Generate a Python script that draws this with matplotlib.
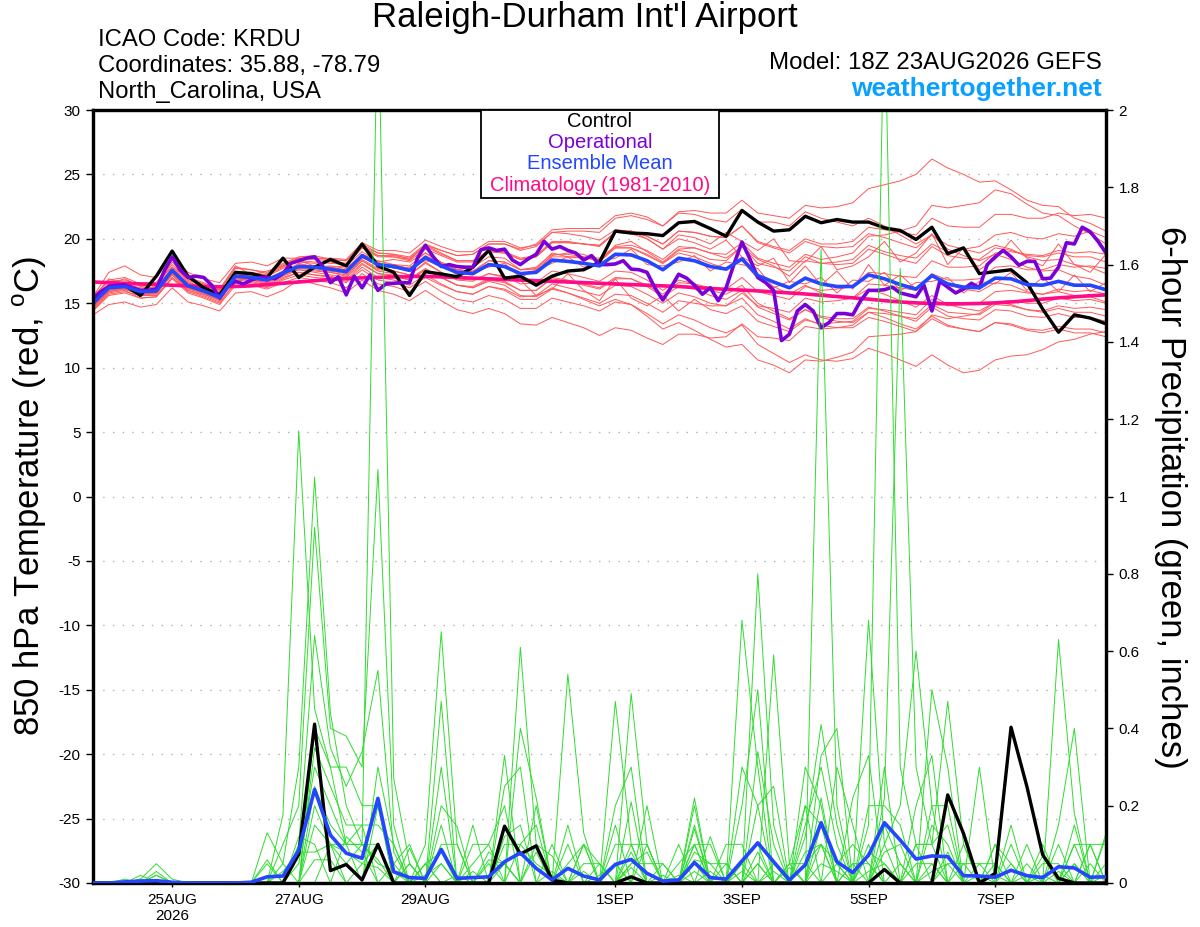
import numpy as np
import matplotlib
matplotlib.use("Agg")
import matplotlib.pyplot as plt
from matplotlib.patches import Rectangle

plt.rcParams['font.family'] = ['Liberation Sans', 'DejaVu Sans']
plt.rcParams['mathtext.fontset'] = 'custom'
plt.rcParams['mathtext.rm'] = 'Liberation Sans'

# ---------------- data ----------------
hours6 = np.arange(0, 385, 6)      # forecast hours from 18Z 23AUG2026
hours3 = np.arange(0, 385, 3)      # operational run is 3-hourly

tick_hours = [30, 78, 126, 198, 246, 294, 342]
tick_labels = ["25AUG\n2026", "27AUG", "29AUG", "1SEP", "3SEP", "5SEP", "7SEP"]

control_t = [15.0, 16.3, 16.4, 15.6, 17.1, 19.05, 17.1, 16.2, 15.65, 17.4, 17.3, 17.0, 18.5,
             17.0, 17.8, 18.4, 17.9, 19.6, 17.9, 17.4, 15.6, 17.45, 17.27, 17.06, 17.8, 19.1,
             16.95, 17.1, 16.4, 17.1, 17.5, 17.6, 18.2, 20.6, 20.45, 20.4, 20.25, 21.25, 21.35,
             20.8, 20.2, 22.2, 21.3, 20.6, 20.7, 21.75, 21.25, 21.5, 21.3, 21.3, 20.85, 20.65,
             19.95, 20.9, 18.85, 19.3, 17.3, 17.45, 17.6, 16.6, 14.55, 12.75, 14.1, 13.85, 13.4]

ens_mean_t = [15.0, 16.2, 16.3, 15.9, 15.95, 17.55, 16.35, 15.95, 15.45, 17.1, 17.0, 16.8, 17.35,
              17.85, 17.8, 17.65, 17.45, 18.7, 18.0, 17.85, 17.55, 18.55, 17.9, 17.4, 17.3, 18.0,
              17.85, 17.3, 17.4, 18.35, 18.25, 18.1, 17.9, 18.8, 18.75, 18.3, 17.6, 18.5, 18.3,
              17.85, 17.65, 18.45, 17.15, 16.65, 16.2, 16.95, 16.5, 16.3, 16.3, 17.2, 16.9, 16.45,
              16.1, 17.15, 16.5, 16.25, 16.2, 16.95, 16.9, 16.45, 16.4, 16.7, 16.4, 16.4, 16.05]

climo_t = [16.65, 16.6, 16.55, 16.5, 16.45, 16.4, 16.35, 16.3, 16.28, 16.3, 16.35, 16.45, 16.55,
           16.65, 16.75, 16.85, 16.92, 16.97, 17.0, 17.05, 17.08, 17.08, 17.05, 17.0, 16.95, 16.9,
           16.85, 16.8, 16.75, 16.7, 16.65, 16.6, 16.55, 16.5, 16.45, 16.4, 16.35, 16.3, 16.22,
           16.15, 16.08, 16.02, 15.96, 15.88, 15.8, 15.72, 15.62, 15.52, 15.42, 15.32, 15.2, 15.1,
           15.03, 14.98, 14.96, 14.96, 14.98, 15.03, 15.1, 15.2, 15.32, 15.42, 15.5, 15.58, 15.65]

oper_t = [15.4, 15.9, 16.3, 16.4, 16.4, 16.2, 16.0, 16.0, 16.1, 17.5, 18.6, 17.6, 17.0, 17.1, 17.0,
          16.4, 15.4, 16.3, 16.7, 16.5, 16.8, 17.0, 17.0, 16.9, 17.3, 18.1, 18.3, 18.5, 18.6, 17.9,
          16.6, 17.05, 15.65, 17.1, 16.2, 17.2, 16.0, 16.5, 16.55, 16.6, 16.6, 18.5, 19.5, 18.6,
          17.85, 18.0, 17.85, 17.8, 17.8, 19.15, 19.3, 19.1, 19.2, 18.35, 18.0, 18.45, 18.8, 19.8,
          19.2, 19.4, 19.1, 18.9, 18.35, 18.7, 18.0, 18.0, 18.05, 18.3, 17.65, 17.6, 17.4, 16.2,
          15.25, 16.2, 17.25, 16.95, 16.4, 15.7, 16.2, 15.2, 16.2, 18.05, 19.75, 18.45, 17.0, 16.6,
          16.0, 12.1, 12.6, 14.4, 14.9, 14.4, 13.1, 13.5, 14.2, 14.2, 14.1, 15.2, 16.0, 16.0, 16.05,
          16.25, 15.8, 15.65, 15.5, 16.4, 14.4, 16.7, 16.25, 15.8, 16.1, 16.55, 16.2, 18.0, 18.6,
          19.1, 18.6, 17.95, 18.25, 18.25, 16.9, 16.95, 17.8, 19.7, 19.6, 20.9, 20.55, 19.8, 18.9]

red_m01 = [15.5, 17.4, 17.9, 17.2, 17.0, 18.6, 17.4, 16.9, 16.6, 18.1, 18.2, 17.9, 18.5,
           18.5, 18.5, 18.4, 18.3, 19.4, 18.9, 18.8, 18.6, 19.6, 19.1, 18.7, 18.8, 19.6,
           19.6, 19.1, 19.4, 20.5, 20.6, 20.6, 20.5, 21.6, 21.8, 21.5, 21.0, 22.1, 22.2,
           22.0, 22.0, 23.0, 22.0, 21.8, 21.6, 22.6, 22.4, 22.5, 22.8, 23.9, 24.2, 24.5,
           25.0, 26.2, 25.5, 25.0, 24.4, 24.5, 23.8, 23.0, 22.6, 22.5, 21.6, 21.2, 20.6]
red_m02 = [14.4, 15.6, 15.8, 15.4, 15.5, 16.9, 15.8, 15.4, 14.9, 16.4, 16.4, 16.1, 16.6,
           17.0, 16.8, 16.6, 16.2, 17.3, 16.5, 16.3, 15.9, 16.7, 15.9, 15.3, 15.1, 15.6,
           15.3, 14.6, 14.6, 15.4, 15.1, 14.8, 14.4, 15.1, 14.9, 14.2, 13.4, 14.1, 13.7,
           13.1, 12.7, 13.3, 11.8, 11.1, 10.4, 11.0, 10.6, 10.5, 10.7, 11.5, 11.1, 10.6,
           10.1, 11.0, 10.2, 9.6, 9.8, 10.6, 10.9, 11.0, 11.4, 12.0, 12.2, 12.6, 12.8]
red_m03 = [15.5, 16.8, 17.0, 16.5, 16.6, 18.4, 17.0, 16.6, 16.0, 17.8, 17.6, 17.4, 18.1,
           18.6, 18.7, 18.4, 18.3, 19.6, 18.9, 18.8, 18.4, 19.5, 18.9, 18.3, 18.3, 19.1,
           19.0, 18.5, 18.7, 19.8, 19.8, 19.6, 19.4, 20.5, 20.4, 20.0, 19.2, 20.3, 20.1,
           19.6, 20.5, 19.8, 19.1, 20.0, 18.3, 18.2, 19.4, 17.6, 17.9, 18.6, 19.8, 18.2,
           18.9, 20.4, 18.0, 19.3, 17.6, 18.4, 19.9, 18.5, 17.9, 19.6, 18.0, 17.4, 18.8]
red_m04 = [14.6, 15.8, 16.0, 15.4, 15.5, 17.0, 15.9, 15.5, 15.0, 16.6, 16.5, 16.2, 16.8,
           17.2, 17.0, 16.9, 16.6, 17.6, 16.8, 16.6, 16.2, 17.0, 16.4, 15.9, 15.7, 16.3,
           16.1, 15.5, 15.6, 16.5, 16.2, 15.9, 15.6, 16.4, 16.3, 15.7, 15.0, 15.8, 15.5,
           15.0, 14.8, 15.4, 14.1, 13.6, 13.0, 13.8, 13.3, 13.1, 13.1, 13.9, 13.6, 13.2,
           12.8, 13.8, 13.2, 13.0, 12.8, 13.5, 13.4, 13.0, 12.9, 13.2, 13.0, 13.0, 12.7]
red_m05 = [15.2, 16.5, 16.9, 16.3, 16.4, 18.0, 16.9, 16.5, 15.9, 17.3, 17.2, 17.1, 17.7,
           18.3, 17.9, 17.8, 17.9, 19.0, 18.2, 18.4, 18.2, 18.9, 18.1, 17.6, 17.8, 18.6,
           18.5, 17.6, 17.6, 18.7, 18.9, 18.8, 18.2, 19.5, 19.8, 19.0, 18.2, 19.2, 19.3,
           18.9, 18.5, 19.4, 18.4, 17.9, 17.1, 18.3, 18.1, 18.2, 18.4, 19.5, 19.0, 18.7,
           18.5, 19.6, 19.0, 19.2, 19.4, 20.3, 20.5, 20.1, 20.0, 20.4, 20.2, 20.6, 20.1]
red_m06 = [14.8, 15.9, 16.1, 15.6, 15.8, 17.2, 16.0, 15.7, 15.2, 16.9, 16.8, 16.5, 17.1,
           17.6, 17.5, 17.4, 17.1, 18.3, 17.6, 17.5, 17.2, 18.2, 17.4, 16.9, 16.8, 17.3,
           17.0, 16.8, 15.6, 16.1, 17.3, 16.0, 15.2, 16.9, 15.4, 14.8, 15.6, 14.4, 15.3,
           14.5, 14.2, 14.8, 13.6, 13.2, 12.8, 13.7, 13.4, 13.5, 13.6, 14.6, 14.5, 14.3,
           14.1, 15.3, 14.8, 14.9, 15.0, 15.9, 16.0, 15.8, 15.7, 16.1, 15.9, 16.0, 15.7]
red_m07 = [15.4, 16.9, 16.5, 16.6, 16.6, 17.8, 17.0, 16.3, 16.1, 17.9, 17.2, 17.5, 17.9,
           18.2, 18.1, 18.2, 18.0, 19.3, 18.7, 18.7, 18.5, 19.5, 19.1, 18.7, 18.8, 19.6,
           19.6, 19.2, 19.6, 20.7, 20.8, 20.8, 20.8, 21.8, 22.0, 21.7, 21.0, 22.0, 21.9,
           21.5, 21.3, 22.3, 21.3, 21.3, 21.0, 22.1, 21.6, 21.3, 21.0, 21.6, 21.0, 20.3,
           19.6, 20.3, 19.2, 18.7, 18.3, 18.8, 18.4, 17.8, 17.5, 17.6, 17.1, 16.9, 16.4]
red_m08 = [15.0, 16.0, 16.2, 16.0, 16.1, 17.3, 16.6, 16.2, 15.6, 17.0, 16.9, 16.9, 17.2,
           17.8, 17.9, 17.5, 17.6, 18.5, 18.2, 17.7, 17.8, 18.3, 18.1, 17.2, 17.5, 17.8,
           18.1, 17.0, 17.6, 18.1, 18.6, 17.8, 18.2, 18.5, 19.2, 18.0, 17.9, 18.2, 18.7,
           17.5, 18.2, 18.0, 17.7, 16.2, 16.7, 16.5, 17.0, 15.8, 16.8, 16.7, 17.4, 16.0,
           16.6, 16.7, 17.0, 15.8, 16.7, 16.5, 17.4, 16.0, 17.0, 15.9, 17.2, 15.9, 16.6]
red_m09 = [14.7, 16.0, 16.1, 15.7, 15.7, 17.3, 16.2, 15.7, 15.3, 16.8, 16.7, 16.4, 17.0,
           17.4, 17.2, 17.0, 16.7, 17.8, 17.0, 16.8, 16.4, 17.2, 16.5, 15.9, 15.7, 16.3,
           16.0, 15.3, 15.3, 16.1, 15.8, 15.4, 15.0, 15.7, 15.6, 15.0, 14.3, 15.2, 15.0,
           14.8, 14.8, 15.8, 14.8, 14.6, 14.3, 15.4, 15.1, 15.2, 15.4, 16.5, 16.4, 16.2,
           16.0, 17.3, 16.8, 16.8, 16.9, 17.8, 17.9, 17.6, 17.6, 18.0, 17.8, 17.9, 17.7]
red_m10 = [15.3, 16.4, 16.6, 16.0, 16.2, 17.8, 16.8, 16.3, 15.8, 17.4, 17.3, 17.1, 17.8,
           18.3, 18.2, 18.1, 18.0, 19.3, 18.6, 18.6, 18.3, 19.2, 18.7, 18.2, 18.2, 19.0,
           18.9, 18.4, 18.6, 19.7, 19.7, 19.6, 19.5, 20.5, 20.6, 20.2, 19.6, 20.6, 20.5,
           20.2, 20.1, 21.0, 19.8, 19.4, 19.1, 20.0, 19.6, 19.6, 19.8, 20.9, 20.7, 20.5,
           20.3, 21.6, 21.0, 20.9, 20.9, 21.9, 21.9, 21.6, 21.6, 22.0, 21.8, 21.9, 21.6]
red_m11 = [14.5, 15.7, 15.9, 15.6, 15.6, 17.0, 16.0, 15.6, 15.1, 16.6, 16.6, 16.3, 16.9,
           17.4, 17.2, 17.1, 16.8, 18.0, 17.3, 17.1, 16.8, 17.6, 17.0, 16.4, 16.3, 16.9,
           16.7, 16.0, 16.0, 17.0, 16.8, 16.5, 16.2, 17.0, 16.9, 16.3, 15.5, 16.3, 16.1,
           15.6, 15.3, 16.0, 14.7, 14.2, 13.7, 14.5, 14.0, 13.8, 13.8, 14.7, 14.4, 14.0,
           13.6, 14.7, 14.0, 13.8, 13.7, 14.5, 14.4, 14.0, 13.9, 14.2, 13.9, 13.9, 13.6]
red_m12 = [14.9, 16.1, 16.2, 15.8, 15.8, 17.4, 16.3, 15.8, 15.4, 17.0, 16.9, 16.7, 17.3,
           17.7, 17.6, 17.4, 17.2, 18.3, 17.5, 17.3, 16.9, 17.7, 17.0, 16.4, 16.2, 16.7,
           16.4, 15.6, 15.5, 16.2, 15.8, 15.3, 14.8, 15.3, 14.9, 14.0, 13.0, 13.5, 12.9,
           12.2, 11.6, 11.8, 10.6, 10.2, 9.6, 10.6, 10.5, 10.8, 11.2, 12.4, 12.5, 12.6,
           12.8, 14.1, 13.8, 14.0, 14.2, 15.1, 15.2, 15.0, 15.0, 15.4, 15.2, 15.3, 15.0]
red_m13 = [15.2, 16.4, 16.5, 16.2, 16.2, 17.6, 16.6, 16.2, 15.7, 17.4, 17.4, 17.2, 17.9,
           18.5, 18.5, 18.5, 18.4, 19.7, 19.1, 19.1, 18.9, 19.9, 19.4, 19.0, 19.0, 19.8,
           19.8, 19.3, 19.5, 20.5, 20.4, 20.2, 19.9, 20.7, 20.6, 20.0, 19.2, 20.0, 19.7,
           19.2, 19.9, 18.6, 17.9, 18.5, 16.6, 17.9, 16.4, 17.5, 16.1, 18.0, 16.4, 17.2,
           16.1, 17.2, 16.4, 16.1, 15.9, 16.6, 16.4, 15.9, 15.7, 15.9, 15.6, 15.5, 15.1]
red_m14 = [14.8, 16.1, 16.3, 15.8, 15.9, 17.4, 16.2, 15.9, 15.4, 17.0, 16.9, 16.6, 17.3,
           17.8, 17.7, 17.5, 17.3, 18.4, 17.7, 17.5, 17.2, 18.1, 17.4, 16.8, 16.7, 17.3,
           17.1, 16.5, 16.6, 17.5, 17.3, 17.0, 16.7, 17.5, 17.4, 16.8, 16.0, 16.8, 16.5,
           16.0, 15.7, 16.4, 15.0, 14.4, 13.8, 14.5, 13.9, 13.6, 13.5, 14.3, 13.9, 13.4,
           13.0, 14.0, 13.3, 13.0, 12.8, 13.5, 13.3, 12.9, 12.7, 13.0, 12.7, 12.7, 12.4]
red_m15 = [15.1, 16.3, 16.4, 16.0, 16.0, 17.6, 16.5, 16.1, 15.6, 17.2, 17.1, 16.9, 17.5,
           18.0, 17.9, 17.8, 17.6, 18.8, 18.1, 18.0, 17.7, 18.7, 18.1, 17.6, 17.5, 18.3,
           18.2, 17.6, 17.8, 18.8, 18.8, 18.6, 18.5, 19.4, 19.5, 19.1, 18.4, 19.4, 19.3,
           18.9, 18.8, 19.7, 18.5, 18.1, 17.8, 18.8, 18.4, 18.6, 18.9, 20.2, 20.3, 20.6,
           21.0, 22.6, 22.4, 22.6, 22.8, 23.8, 23.5, 22.7, 22.0, 21.8, 21.0, 20.4, 19.6]
red_m16 = [15.0, 16.3, 16.4, 15.9, 15.9, 17.5, 16.3, 15.9, 15.5, 17.1, 17.0, 16.7, 17.4,
           17.9, 17.8, 17.6, 17.4, 18.6, 17.9, 17.8, 17.5, 18.4, 17.8, 17.3, 17.2, 17.9,
           17.8, 17.3, 17.5, 18.6, 18.6, 18.5, 18.4, 19.3, 19.3, 18.8, 18.1, 18.9, 18.6,
           18.1, 17.7, 18.3, 16.9, 16.3, 15.7, 16.4, 15.8, 15.5, 15.4, 16.1, 15.7, 15.2,
           14.7, 15.6, 14.9, 14.6, 14.4, 15.1, 14.9, 14.5, 14.3, 14.6, 14.3, 14.3, 14.0]
red_m17 = [15.4, 16.7, 16.8, 16.4, 16.4, 18.2, 16.9, 16.4, 16.0, 17.7, 17.6, 17.3, 18.0,
           18.5, 18.4, 18.3, 18.1, 19.4, 18.7, 18.6, 18.4, 19.4, 18.8, 18.3, 18.3, 19.0,
           18.9, 18.4, 18.6, 19.7, 19.7, 19.6, 19.5, 20.5, 20.6, 20.2, 19.6, 20.6, 20.5,
           20.2, 20.1, 21.0, 19.7, 19.3, 18.9, 19.8, 19.4, 19.3, 19.4, 20.4, 20.1, 19.7,
           19.3, 20.3, 19.5, 19.2, 18.9, 19.5, 19.2, 18.6, 18.3, 18.4, 18.0, 17.8, 17.3]
red_m18 = [14.6, 15.9, 16.1, 15.7, 15.8, 17.2, 16.1, 15.8, 15.3, 16.9, 16.8, 16.6, 17.2,
           17.6, 17.4, 17.2, 17.0, 18.1, 17.3, 17.2, 16.8, 17.6, 17.0, 16.4, 16.2, 16.8,
           16.6, 16.0, 16.0, 16.9, 16.7, 16.4, 16.1, 16.9, 16.9, 16.4, 15.7, 16.6, 16.5,
           16.2, 16.1, 17.0, 15.9, 15.6, 15.3, 16.3, 16.0, 16.1, 16.3, 17.4, 17.3, 17.1,
           17.0, 18.3, 17.8, 17.8, 17.9, 18.9, 19.0, 18.8, 18.7, 19.1, 18.9, 19.0, 18.8]
red_m19 = [14.1, 14.9, 15.1, 14.7, 14.9, 16.2, 15.1, 14.8, 14.4, 15.8, 15.9, 15.5, 16.0,
           16.8, 16.5, 16.2, 15.8, 16.8, 16.0, 15.7, 15.2, 16.0, 15.2, 14.5, 14.2, 14.6,
           14.2, 13.4, 13.3, 13.9, 13.5, 13.1, 12.5, 13.1, 12.9, 12.3, 11.8, 12.6, 12.6,
           12.3, 12.4, 13.4, 12.4, 12.3, 12.1, 13.2, 13.0, 13.1, 13.3, 14.3, 14.2, 14.0,
           13.8, 14.9, 14.3, 14.2, 14.1, 14.9, 14.8, 14.5, 14.4, 14.8, 14.6, 14.7, 14.5]
red_m20 = [15.0, 16.2, 16.5, 16.1, 16.3, 17.7, 16.7, 16.1, 15.6, 17.3, 17.1, 16.9, 17.4,
           18.1, 17.8, 17.9, 17.7, 18.8, 18.3, 18.0, 17.9, 18.9, 18.2, 17.6, 17.4, 18.3,
           18.2, 17.6, 17.7, 18.9, 18.6, 18.6, 18.2, 19.3, 19.3, 18.7, 18.1, 19.1, 18.9,
           18.4, 18.3, 19.4, 18.1, 17.8, 17.5, 18.6, 18.1, 18.0, 18.1, 19.2, 18.8, 18.4,
           18.1, 19.4, 18.7, 18.5, 18.4, 19.3, 19.1, 18.7, 18.6, 18.9, 18.6, 18.6, 18.2]

control_p = [0, 0, 0, 0, 0, 0, 0, 0, 0, 0, 0, 0, 0, 0.075, 0.411, 0.032, 0.048, 0.008, 0.1,
             0, 0, 0, 0, 0, 0, 0, 0.147, 0.075, 0.096, 0.008, 0, 0, 0, 0, 0.016, 0, 0, 0, 0,
             0, 0, 0, 0, 0, 0, 0, 0, 0, 0, 0, 0.035, 0, 0, 0, 0.228, 0.128, 0, 0.025, 0.403,
             0.25, 0.073, 0.012, 0, 0, 0]

ens_mean_p = [0, 0, 0.003, 0.005, 0.006, 0.002, 0, 0, 0, 0, 0.002, 0.016, 0.018, 0.085, 0.242,
              0.124, 0.077, 0.064, 0.219, 0.029, 0.014, 0.012, 0.087, 0.012, 0.014, 0.016, 0.055,
              0.078, 0.038, 0.008, 0.038, 0.018, 0.008, 0.048, 0.061, 0.025, 0.005, 0.008, 0.053,
              0.014, 0.01, 0.057, 0.104, 0.055, 0.008, 0.047, 0.156, 0.055, 0.027, 0.072, 0.156,
              0.111, 0.062, 0.07, 0.068, 0.019, 0.018, 0.015, 0.033, 0.019, 0.014, 0.042, 0.039,
              0.015, 0.016]

# green members: {6-hour step index: precipitation (in)}; unlisted steps are 0
green_m01 = {3: 0.01, 4: 0.05, 5: 0.01, 12: 0.176, 13: 1.17, 14: 0.45, 15: 0.3, 16: 0.1, 18: 0.3,
             19: 0.1, 22: 0.3, 26: 0.12, 27: 0.15, 33: 0.47, 34: 0.1, 38: 0.1, 41: 0.3, 42: 0.2,
             46: 1.64, 47: 0.2, 50: 0.1, 53: 0.15, 54: 0.1, 61: 0.1}
green_m02 = {4: 0.03, 11: 0.13, 12: 0.05, 13: 0.3, 14: 1.05, 15: 0.44, 16: 0.2, 17: 0.1, 18: 2.3,
             19: 0.27, 20: 0.05, 22: 0.15, 27: 0.61, 28: 0.1, 34: 0.21, 38: 0.22, 42: 0.34,
             43: 0.1, 45: 0.3, 46: 0.2, 49: 0.15, 50: 2.3, 51: 0.3, 52: 0.1, 56: 0.3, 62: 0.1}
green_m03 = {4: 0.02, 12: 0.1, 13: 0.2, 14: 0.92, 15: 0.4, 16: 0.38, 17: 0.3, 18: 1.07, 19: 0.15,
             21: 0.1, 22: 0.65, 23: 0.1, 26: 0.33, 30: 0.15, 34: 0.49, 35: 0.1, 38: 0.14,
             41: 0.68, 42: 0.3, 45: 0.12, 46: 0.41, 47: 0.15, 49: 0.68, 50: 0.1, 51: 0.2,
             52: 0.6, 53: 0.2, 58: 0.15, 61: 0.15, 62: 0.4}
green_m04 = {3: 0.02, 11: 0.06, 13: 0.1, 14: 0.64, 15: 0.35, 16: 0.25, 17: 0.34, 18: 0.55,
             19: 0.08, 22: 0.47, 24: 0.15, 27: 0.4, 28: 0.22, 30: 0.54, 31: 0.13, 38: 0.2,
             42: 0.8, 43: 0.15, 46: 0.33, 47: 0.4, 50: 0.22, 51: 1.59, 52: 0.3, 53: 0.1,
             54: 0.47, 55: 0.1, 60: 0.1, 63: 0.1}
green_m05 = {4: 0.02, 11: 0.05, 14: 0.4, 15: 0.3, 16: 0.3, 17: 0.2, 18: 0.2, 20: 0.09, 22: 0.2,
             23: 0.146, 26: 0.25, 27: 0.3, 29: 0.1, 33: 0.2, 34: 0.3, 37: 0.1, 39: 0.12,
             43: 0.59, 44: 0.05, 46: 0.22, 48: 0.22, 49: 0.33, 53: 0.5, 54: 0.3, 57: 0.1,
             61: 0.63, 62: 0.18, 64: 0.128}
green_m06 = {12: 0.05, 14: 0.35, 15: 0.25, 16: 0.15, 17: 0.15, 18: 0.15, 19: 0.1, 21: 0.05,
             24: 0.1, 25: 0.1, 26: 0.2, 28: 0.2, 31: 0.1, 33: 0.15, 35: 0.2, 38: 0.15, 41: 0.2,
             42: 0.5, 45: 0.2, 47: 0.3, 48: 0.15, 50: 0.3, 52: 0.2, 53: 0.33, 55: 0.1, 58: 0.1,
             62: 0.15, 64: 0.12}
green_m07 = {13: 0.05, 14: 0.3, 15: 0.2, 16: 0.1, 17: 0.15, 19: 0.05, 20: 0.1, 22: 0.1, 23: 0.1,
             26: 0.1, 27: 0.1, 28: 0.15, 30: 0.1, 32: 0.05, 34: 0.1, 36: 0.05, 38: 0.1, 39: 0.1,
             42: 0.2, 43: 0.25, 45: 0.15, 46: 0.3, 47: 0.1, 49: 0.2, 50: 0.2, 51: 0.15, 53: 0.2,
             54: 0.2, 56: 0.05, 59: 0.1, 62: 0.1, 63: 0.1}
green_m08 = {2: 0.01, 14: 0.25, 15: 0.15, 16: 0.1, 17: 0.1, 18: 0.1, 20: 0.05, 24: 0.05, 25: 0.1,
             30: 0.05, 31: 0.1, 33: 0.1, 34: 0.1, 35: 0.1, 37: 0.05, 38: 0.1, 40: 0.1, 41: 0.1,
             44: 0.05, 45: 0.2, 46: 0.15, 49: 0.1, 52: 0.1, 53: 0.1, 54: 0.15, 57: 0.1,
             58: 0.05, 60: 0.07, 63: 0.1, 64: 0.1}
green_m09 = {14: 0.2, 15: 0.1, 16: 0.1, 17: 0.1, 18: 0.06, 21: 0.05, 22: 0.08, 25: 0.08,
             26: 0.05, 28: 0.1, 29: 0.07, 31: 0.05, 32: 0.05, 34: 0.05, 35: 0.08, 38: 0.08,
             39: 0.05, 41: 0.05, 42: 0.1, 44: 0.05, 45: 0.05, 46: 0.1, 47: 0.05, 48: 0.1,
             49: 0.05, 52: 0.05, 53: 0.05, 55: 0.05, 56: 0.05, 57: 0.05, 59: 0.05, 62: 0.05,
             64: 0.05}
green_m10 = {14: 0.15, 15: 0.1, 16: 0.05, 17: 0.1, 18: 0.05, 19: 0.03, 21: 0.05, 24: 0.03,
             31: 0.1, 32: 0.05, 34: 0.05, 35: 0.05, 36: 0.05, 38: 0.06, 39: 0.05, 40: 0.05,
             42: 0.05, 44: 0.04, 46: 0.1, 48: 0.05, 49: 0.05, 51: 0.05, 54: 0.05, 55: 0.05,
             58: 0.05, 60: 0.05, 61: 0.05}
green_m11 = {13: 0.12, 14: 0.1, 16: 0.12, 17: 0.08, 22: 0.05, 25: 0.06, 26: 0.05, 33: 0.05,
             35: 0.1, 37: 0.02, 40: 0.05, 42: 0.08, 45: 0.05, 47: 0.05, 49: 0.08, 50: 0.05,
             52: 0.1, 53: 0.1, 57: 0.05, 63: 0.05}
green_m12 = {12: 0.03, 13: 0.08, 14: 0.08, 15: 0.1, 18: 0.2, 19: 0.05, 23: 0.02, 27: 0.1,
             28: 0.05, 29: 0.02, 34: 0.08, 38: 0.05, 41: 0.05, 43: 0.05, 46: 0.15, 47: 0.05,
             50: 0.15, 51: 0.05, 54: 0.08, 56: 0.02, 60: 0.02, 62: 0.05}
green_m13 = {15: 0.1, 16: 0.08, 17: 0.05, 18: 0.1, 20: 0.05, 26: 0.05, 28: 0.08, 32: 0.02,
             33: 0.05, 36: 0.02, 39: 0.03, 42: 0.05, 45: 0.08, 46: 0.1, 48: 0.05, 50: 0.08,
             51: 0.1, 53: 0.05, 57: 0.02, 64: 0.02}
green_m14 = {3: 0.01, 14: 0.06, 15: 0.06, 17: 0.05, 18: 0.04, 21: 0.02, 22: 0.05, 25: 0.05,
             29: 0.03, 31: 0.03, 34: 0.04, 38: 0.03, 41: 0.03, 43: 0.03, 46: 0.05, 47: 0.03,
             49: 0.03, 50: 0.05, 53: 0.03, 54: 0.05, 59: 0.02, 61: 0.03}

red_members = [red_m01, red_m02, red_m03, red_m04, red_m05, red_m06, red_m07, red_m08,
               red_m09, red_m10, red_m11, red_m12, red_m13, red_m14, red_m15, red_m16,
               red_m17, red_m18, red_m19, red_m20]
green_members = [green_m01, green_m02, green_m03, green_m04, green_m05, green_m06, green_m07,
                 green_m08, green_m09, green_m10, green_m11, green_m12, green_m13, green_m14]

# ---------------- colours ----------------
C_RED = '#ff5858'
C_GREEN = '#2fdc2f'
C_CTRL = '#000000'
C_OPER = '#7b00d8'
C_MEAN = '#2446ff'
C_CLIM = '#ff0a88'

# ---------------- figure ----------------
W, H = 1200, 927
fig = plt.figure(figsize=(W / 100, H / 100), dpi=100)
L, R, T, B = 93, 1106, 110, 883
ax = fig.add_axes([L / W, 1 - B / H, (R - L) / W, (B - T) / H])
ax2 = ax.twinx()

# temperature ensemble members
for m in red_members:
    ax.plot(hours6, m, color=C_RED, lw=0.7, zorder=2)

ax.plot(hours6, climo_t, color=C_CLIM, lw=2.6, zorder=5, solid_capstyle='butt')
ax.plot(hours6, control_t, color=C_CTRL, lw=2.4, zorder=6)
ax.plot(hours3, oper_t, color=C_OPER, lw=2.6, zorder=7)
ax.plot(hours6, ens_mean_t, color=C_MEAN, lw=2.6, zorder=8)

# precipitation
for g in green_members:
    vals = np.zeros(len(hours6))
    for k, v in g.items():
        vals[k] = v
    ax2.plot(hours6, vals, color=C_GREEN, lw=0.7, zorder=2)
ax2.plot(hours6, control_p, color=C_CTRL, lw=2.4, zorder=4)
ax2.plot(hours6, ens_mean_p, color=C_MEAN, lw=2.6, zorder=5)

# axes limits / ticks
ax.set_xlim(0, 384)
ax.set_ylim(-30, 30)
ax2.set_ylim(0, 2)
yt = np.arange(-30, 31, 5)
ax.set_yticks(yt)
ax.set_yticklabels([f"{v:g}" for v in yt])
pt = np.round(np.arange(0, 2.01, 0.2), 1)
ax2.set_yticks(pt)
ax2.set_yticklabels([f"{v:g}" for v in pt])
ax.set_xticks(tick_hours)
ax.set_xticklabels(tick_labels)

ax.tick_params(axis='y', direction='out', length=5, width=1, labelsize=11, pad=4)
ax2.tick_params(axis='y', direction='out', length=5, width=1, labelsize=11, pad=4)
ax.tick_params(axis='x', direction='out', length=3, width=1, labelsize=11, pad=4)

for a in (ax, ax2):
    for s in a.spines.values():
        s.set_linewidth(2.3)
        s.set_color('black')

for v in yt[1:-1]:
    ax.axhline(v, color='#b0b0b0', lw=1.0, ls=(0, (1, 6)), zorder=1)

# legend box
leg_x0 = (481 - L) / (R - L)
leg_x1 = (719 - L) / (R - L)
leg_y0 = 1 - (198 - T) / (B - T)
ax2.add_patch(Rectangle((leg_x0, leg_y0), leg_x1 - leg_x0, 1 - leg_y0, transform=ax2.transAxes,
                        facecolor='white', edgecolor='black', lw=1.3, zorder=20, clip_on=False))
leg_items = [("Control", C_CTRL, 121), ("Operational", C_OPER, 142),
             ("Ensemble Mean", C_MEAN, 163), ("Climatology (1981-2010)", C_CLIM, 185)]
for txt, col, yy in leg_items:
    ax2.text((600 - L) / (R - L), 1 - (yy - T) / (B - T), txt, color=col, fontsize=14.5,
             ha='center', va='center', transform=ax2.transAxes, zorder=21)

# header text
fig.text(585 / W, 1 - 18 / H, "Raleigh-Durham Int'l Airport", fontsize=25, ha='center', va='center')
fig.text(98 / W, 1 - 40 / H, "ICAO Code: KRDU", fontsize=17.2, ha='left', va='center')
fig.text(98 / W, 1 - 66 / H, "Coordinates: 35.88, -78.79", fontsize=17.2, ha='left', va='center')
fig.text(98 / W, 1 - 92 / H, "North_Carolina, USA", fontsize=17.2, ha='left', va='center')
fig.text(1102 / W, 1 - 63 / H, "Model: 18Z 23AUG2026 GEFS", fontsize=17.4, ha='right', va='center')
fig.text(1102 / W, 1 - 89 / H, "weathertogether.net", fontsize=19, ha='right', va='center',
         color='#0aa0ff', fontweight='bold')

fig.text(30 / W, 1 - 496 / H, r"850 hPa Temperature (red, $^{\mathrm{o}}$C)", fontsize=25,
         rotation=90, ha='center', va='center')
fig.text(1171 / W, 1 - 497 / H, "6-hour Precipitation (green, inches)", fontsize=25,
         rotation=270, ha='center', va='center')

fig.savefig("out.png", dpi=100)
